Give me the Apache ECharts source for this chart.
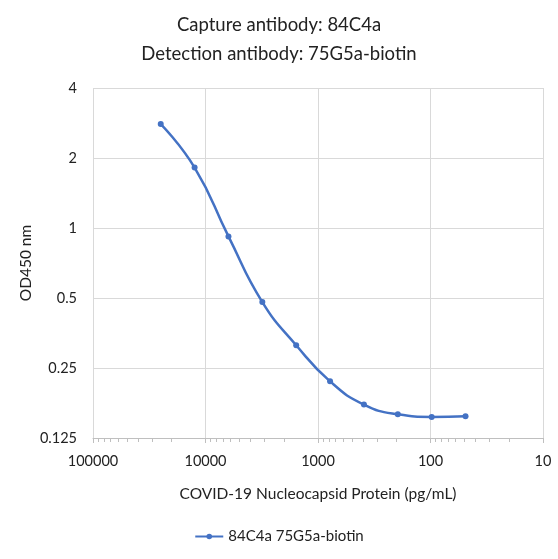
<!DOCTYPE html>
<html>
<head>
<meta charset="utf-8">
<script src="https://cdn.jsdelivr.net/npm/echarts@6/dist/echarts.min.js"></script>
<style>html,body{margin:0;padding:0;background:#fff}#c{width:558px;height:559px}</style>
</head>
<body>
<div id="c"></div>
<script>
const titleLines = ['Capture antibody: 84C4a', 'Detection antibody: 75G5a-biotin'];
const seriesName = '84C4a 75G5a-biotin';
const concentrations = [25000, 12500, 6250, 3125, 1562.5, 781.25, 390.625, 195.3125, 97.65625, 48.828125];
const odValues = [2.80, 1.82, 0.92, 0.48, 0.313, 0.219, 0.174, 0.158, 0.154, 0.155];
const xTickLabels = [100000, 10000, 1000, 100, 10];
const yTickLabels = [0.125, 0.25, 0.5, 1, 2, 4];
const xMinorTicks = [];
[10, 100, 1000, 10000].forEach(d => { for (let k = 2; k <= 9; k++) xMinorTicks.push(d * k); });

const FONT = 'Lato';
const TXT = '#222';
const chart = echarts.init(document.getElementById('c'));
chart.setOption({
  animation: false,
  textStyle: { fontFamily: FONT },
  title: {
    text: titleLines.join('\n'),
    left: 'center', top: 6,
    textStyle: { fontFamily: FONT, fontSize: 18.5, fontWeight: 'normal', color: TXT, lineHeight: 29 }
  },
  legend: {
    bottom: 10, left: 'center',
    itemWidth: 28, itemHeight: 7,
    textStyle: { fontFamily: FONT, fontSize: 15, color: TXT },
    data: [seriesName]
  },
  grid: { left: 93, right: 15, top: 88, bottom: 121 },
  xAxis: [{
    type: 'log', logBase: 10, min: 10, max: 100000, inverse: true,
    name: 'COVID-19 Nucleocapsid Protein (pg/mL)', nameLocation: 'middle', nameGap: 48,
    nameTextStyle: { fontFamily: FONT, fontSize: 15.5, color: TXT },
    axisLine: { show: true, lineStyle: { color: '#bfbfbf' } },
    axisTick: { show: true, length: 5, lineStyle: { color: '#bfbfbf' }, customValues: xTickLabels },
    axisLabel: { fontFamily: FONT, fontSize: 14.5, color: TXT, margin: 16, customValues: xTickLabels, formatter: v => String(Math.round(v)) },
    splitLine: { show: true, lineStyle: { color: '#d9d9d9' } }
  }, {
    type: 'log', logBase: 10, min: 10, max: 100000, inverse: true, position: 'bottom',
    axisLine: { show: false },
    axisTick: { show: true, length: 4, lineStyle: { color: '#bfbfbf' }, customValues: xMinorTicks },
    axisLabel: { show: false },
    splitLine: { show: false }
  }],
  yAxis: {
    type: 'log', logBase: 2, min: 0.125, max: 4,
    name: 'OD450 nm', nameLocation: 'middle', nameGap: 59, nameRotate: 90,
    nameMoveOverlap: false,
    nameTextStyle: { fontFamily: FONT, fontSize: 15.5, color: TXT },
    axisLine: { show: false },
    axisTick: { show: false },
    axisLabel: { fontFamily: FONT, fontSize: 14.5, color: TXT, margin: 16, customValues: yTickLabels, formatter: v => String(+v.toPrecision(6)) },
    splitLine: { show: true, lineStyle: { color: '#d9d9d9' } }
  },
  series: [{
    name: seriesName, type: 'line', xAxisIndex: 0,
    data: concentrations.map((c, i) => [c, odValues[i]]),
    smooth: 0.5,
    symbol: 'circle', symbolSize: 6,
    lineStyle: { color: '#4472C4', width: 2.5 },
    itemStyle: { color: '#4472C4' }
  }]
});
</script>
</body>
</html>
